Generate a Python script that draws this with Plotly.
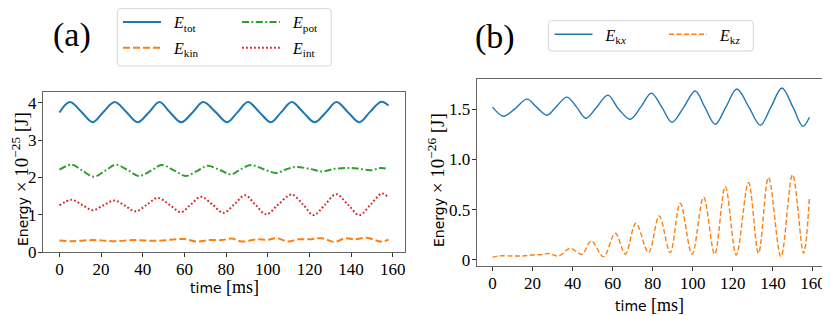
import plotly.graph_objects as go

# ---------------- Panel (a) data ----------------
t_tot = [0, 5, 10.5, 16, 21, 26.5, 32, 37.5, 43, 48, 53, 58.5, 64, 69, 75, 80.5,
         85.5, 90.5, 96, 101.5, 106.5, 111.5, 117, 122.5, 128, 133, 138.5, 144, 149, 154.5, 158]
e_tot = [3.74, 4.02, 3.76, 3.48, 3.75, 4.02, 3.76, 3.48, 3.75, 4.02, 3.75, 3.48, 3.75, 4.02, 3.75, 3.48,
         3.75, 4.02, 3.75, 3.48, 3.75, 4.02, 3.75, 3.48, 3.75, 4.02, 3.75, 3.48, 3.75, 4.03, 3.93]

t_kin = [0, 6, 16, 26, 36, 46, 56, 60, 66, 72, 78, 82.7, 87.5, 94.7, 100, 104.3,
         109.9, 114.7, 120, 125.9, 132.3, 137.1, 141.9, 147.5, 154.4, 158]
e_kin = [0.31, 0.29, 0.32, 0.29, 0.32, 0.30, 0.34, 0.35, 0.28, 0.32, 0.32, 0.36, 0.28, 0.34, 0.33, 0.37,
         0.28, 0.34, 0.34, 0.37, 0.27, 0.37, 0.34, 0.38, 0.28, 0.33]

t_pot = [0, 6, 11, 16.5, 22, 27, 33, 38, 44, 49, 55, 60.5, 66, 71, 77, 82.5,
         87, 92, 98, 104, 109, 113.5, 120, 126.5, 132, 138, 143, 149.5, 154, 158]
e_pot = [2.21, 2.34, 2.18, 2.02, 2.18, 2.34, 2.19, 2.04, 2.18, 2.33, 2.19, 2.04, 2.17, 2.31, 2.20, 2.08,
         2.22, 2.33, 2.22, 2.12, 2.22, 2.28, 2.23, 2.16, 2.23, 2.25, 2.24, 2.19, 2.25, 2.23]

t_int = [0, 5.7, 11, 16, 21, 26.4, 31.5, 36.5, 42, 47.2, 53, 58.4, 63, 68, 73.5, 78.7,
         84, 89.1, 94, 99.3, 105, 111.5, 117, 122, 127.5, 132.8, 138.5, 144, 149.5, 154.9, 158]
e_int = [1.25, 1.40, 1.26, 1.12, 1.25, 1.38, 1.24, 1.09, 1.27, 1.45, 1.26, 1.07, 1.27, 1.48, 1.27, 1.05,
         1.28, 1.52, 1.27, 1.01, 1.27, 1.54, 1.27, 0.99, 1.27, 1.55, 1.27, 0.99, 1.28, 1.57, 1.45]

# ---------------- Panel (b) data ----------------
t_kx = [0, 5.5, 11, 17.2, 22, 27.2, 32, 37.2, 42, 46.6, 52, 57.6, 63, 68.8, 74, 79.3,
        84.5, 89.6, 95.5, 101.2, 106, 111.2, 116.5, 122, 128, 133.7, 139, 144.5, 150, 155, 158.2]
e_kx = [1.52, 1.43, 1.50, 1.60, 1.52, 1.44, 1.53, 1.62, 1.52, 1.41, 1.52, 1.64, 1.50, 1.40, 1.52, 1.66,
        1.52, 1.37, 1.52, 1.68, 1.52, 1.35, 1.52, 1.70, 1.52, 1.34, 1.52, 1.71, 1.52, 1.33, 1.42]

t_kz = [0, 3, 10, 15, 20, 25, 28, 33, 38.8, 44.6, 49.3, 55.4, 61.3, 66.3, 71.6, 77.9,
        83.2, 88.7, 93.7, 99.6, 105.4, 110.9, 116.2, 121.7, 127.8, 132.8, 137.8, 144, 149.8, 155.3, 158.2]
e_kz = [0.025, 0.04, 0.04, 0.04, 0.05, 0.055, 0.065, 0.04, 0.115, 0.057, 0.19, 0.033, 0.266, 0.06, 0.365, 0.073,
        0.438, 0.073, 0.565, 0.057, 0.625, 0.057, 0.73, 0.05, 0.77, 0.067, 0.82, 0.033, 0.847, 0.067, 0.615]

# ticks
x_ticks = [0, 20, 40, 60, 80, 100, 120, 140, 160]
ya_ticks = [0, 1, 2, 3, 4]
yb_ticks = [0, 0.5, 1.0, 1.5]
yb_ticktext = ["0", "0.5", "1.0", "1.5"]

BLUE, ORANGE, GREEN, RED = "#1f77b4", "#ff7f0e", "#2ca02c", "#d62728"
SERIF = "Liberation Serif"
SANS = "DejaVu Sans"
W, H = 822, 308          # figure size; page places it 8 px in from the window's corner
OX, OY = 8, 8            # page body offset
NB = "\u00a0\u00a0"


def px(x):
    """window pixel x -> paper fraction"""
    return (x - OX) / W


def py(y):
    """window pixel y (from top) -> paper fraction"""
    return 1 - (y - OY) / H


fig = go.Figure()

fig.add_trace(go.Scatter(x=t_tot, y=e_tot, mode="lines", line=dict(color=BLUE, width=2, shape="spline"),
                         name=NB + "<i>E</i><sub>tot</sub>", legend="legend", legendgroup="a1",
                         xaxis="x", yaxis="y"))
fig.add_trace(go.Scatter(x=t_kin, y=e_kin, mode="lines",
                         line=dict(color=ORANGE, width=2, dash="7px,3px", shape="spline"),
                         name=NB + "<i>E</i><sub>kin</sub>", legend="legend", legendgroup="a2",
                         xaxis="x", yaxis="y"))
fig.add_trace(go.Scatter(x=t_pot, y=e_pot, mode="lines",
                         line=dict(color=GREEN, width=2, dash="7px,2.5px,1.8px,2.5px", shape="spline"),
                         name=NB + "<i>E</i><sub>pot</sub>", legend="legend2", legendgroup="a3",
                         xaxis="x", yaxis="y"))
fig.add_trace(go.Scatter(x=t_int, y=e_int, mode="lines",
                         line=dict(color=RED, width=2, dash="1.8px,2.2px", shape="spline"),
                         name=NB + "<i>E</i><sub>int</sub>", legend="legend2", legendgroup="a4",
                         xaxis="x", yaxis="y"))

fig.add_trace(go.Scatter(x=t_kx, y=e_kx, mode="lines", line=dict(color=BLUE, width=1.4, shape="spline"),
                         name=NB + "<i>E</i><sub>k<i>x</i></sub>", legend="legend3",
                         xaxis="x2", yaxis="y2"))
fig.add_trace(go.Scatter(x=t_kz, y=e_kz, mode="lines",
                         line=dict(color=ORANGE, width=1.4, dash="5px,2.5px", shape="spline"),
                         name=NB + "<i>E</i><sub>k<i>z</i></sub>", legend="legend4",
                         xaxis="x2", yaxis="y2"))

axis_common = dict(showline=True, linecolor="#666", linewidth=1, mirror=True, showgrid=False,
                   zeroline=False, ticks="outside", ticklen=4, tickcolor="#333", tickwidth=1,
                   tickfont=dict(family=SERIF, size=17, color="black"))

fig.update_layout(
    width=W, height=H, margin=dict(l=0, r=0, t=0, b=0, autoexpand=False),
    paper_bgcolor="white", plot_bgcolor="white", showlegend=True,
    xaxis=dict(domain=[px(43), px(405)], range=[-7.9, 165.9], tickvals=x_ticks, anchor="y", **axis_common),
    yaxis=dict(domain=[py(252), py(92)], range=[0, 4.29], tickvals=ya_ticks, anchor="x", **axis_common),
    xaxis2=dict(domain=[px(476.7), px(825)], range=[-7.9, 166], tickvals=x_ticks, anchor="y2", **axis_common),
    yaxis2=dict(domain=[py(266), py(79)], range=[-0.06, 1.80], tickvals=yb_ticks, ticktext=yb_ticktext,
                anchor="x2", **axis_common),
)
for ax in ("xaxis", "xaxis2"):
    try:
        fig.layout[ax].ticklabeloverflow = "allow"
        fig.layout[ax].ticklabelstandoff = -2
    except Exception:
        pass
for ax in ("yaxis", "yaxis2"):
    try:
        fig.layout[ax].ticklabelstandoff = -2
    except Exception:
        pass

leg_common = dict(xanchor="left", yanchor="top", bgcolor="rgba(0,0,0,0)", borderwidth=0,
                  font=dict(family=SERIF, size=16, color="black"), itemwidth=38, tracegroupgap=2,
                  orientation="v")
fig.update_layout(
    legend=dict(x=px(118), y=py(5.1), **leg_common),
    legend2=dict(x=px(237), y=py(5.1), **leg_common),
    legend3=dict(x=px(549.5), y=py(17.4), **leg_common),
    legend4=dict(x=px(664), y=py(17.4), **leg_common),
)


def rounded_box(x0, y0, x1, y1, r=3):
    rx, ry = r / W, r / H
    X0, X1 = px(x0), px(x1)
    Y0, Y1 = py(y0), py(y1)  # Y0 top, Y1 bottom
    return (f"M{X0 + rx},{Y0} L{X1 - rx},{Y0} Q{X1},{Y0} {X1},{Y0 - ry} "
            f"L{X1},{Y1 + ry} Q{X1},{Y1} {X1 - rx},{Y1} L{X0 + rx},{Y1} "
            f"Q{X0},{Y1} {X0},{Y1 + ry} L{X0},{Y0 - ry} Q{X0},{Y0} {X0 + rx},{Y0} Z")


fig.add_shape(type="path", path=rounded_box(117.3, 8.7, 331.3, 66), xref="paper", yref="paper",
              line=dict(color="#d6d6d6", width=1), fillcolor="rgba(255,255,255,0.8)", layer="below")
fig.add_shape(type="path", path=rounded_box(548.3, 20.7, 753.3, 51), xref="paper", yref="paper",
              line=dict(color="#d6d6d6", width=1), fillcolor="rgba(255,255,255,0.8)", layer="below")

serif_span = f"<span style='font-family:{SERIF};font-size:19px'>"
ylab_a = f"Energy{serif_span} × 10<sup>−25</sup> [J]</span>"
ylab_b = f"Energy{serif_span} × 10<sup>−26</sup> [J]</span>"
xlab = f"time <span style='font-family:{SERIF};font-size:18px'>[ms]</span>"

ann_font = dict(family=SANS, size=14, color="black")
fig.add_annotation(x=px(20), y=py(179), xref="paper", yref="paper", text=ylab_a, textangle=-90,
                   showarrow=False, xanchor="center", yanchor="middle", font=ann_font)
fig.add_annotation(x=px(436), y=py(180), xref="paper", yref="paper", text=ylab_b, textangle=-90,
                   showarrow=False, xanchor="center", yanchor="middle", font=ann_font)
fig.add_annotation(x=px(224), y=py(287), xref="paper", yref="paper", text=xlab,
                   showarrow=False, xanchor="center", yanchor="middle", font=ann_font)
fig.add_annotation(x=px(649), y=py(305), xref="paper", yref="paper", text=xlab,
                   showarrow=False, xanchor="center", yanchor="middle", font=ann_font)

fig.add_annotation(x=px(71.7), y=py(35), xref="paper", yref="paper", text="(a)",
                   showarrow=False, xanchor="center", yanchor="middle",
                   font=dict(family=SERIF, size=34, color="black"))
fig.add_annotation(x=px(495), y=py(36.5), xref="paper", yref="paper", text="(b)",
                   showarrow=False, xanchor="center", yanchor="middle",
                   font=dict(family=SERIF, size=34, color="black"))

fig.write_html("out.html")
